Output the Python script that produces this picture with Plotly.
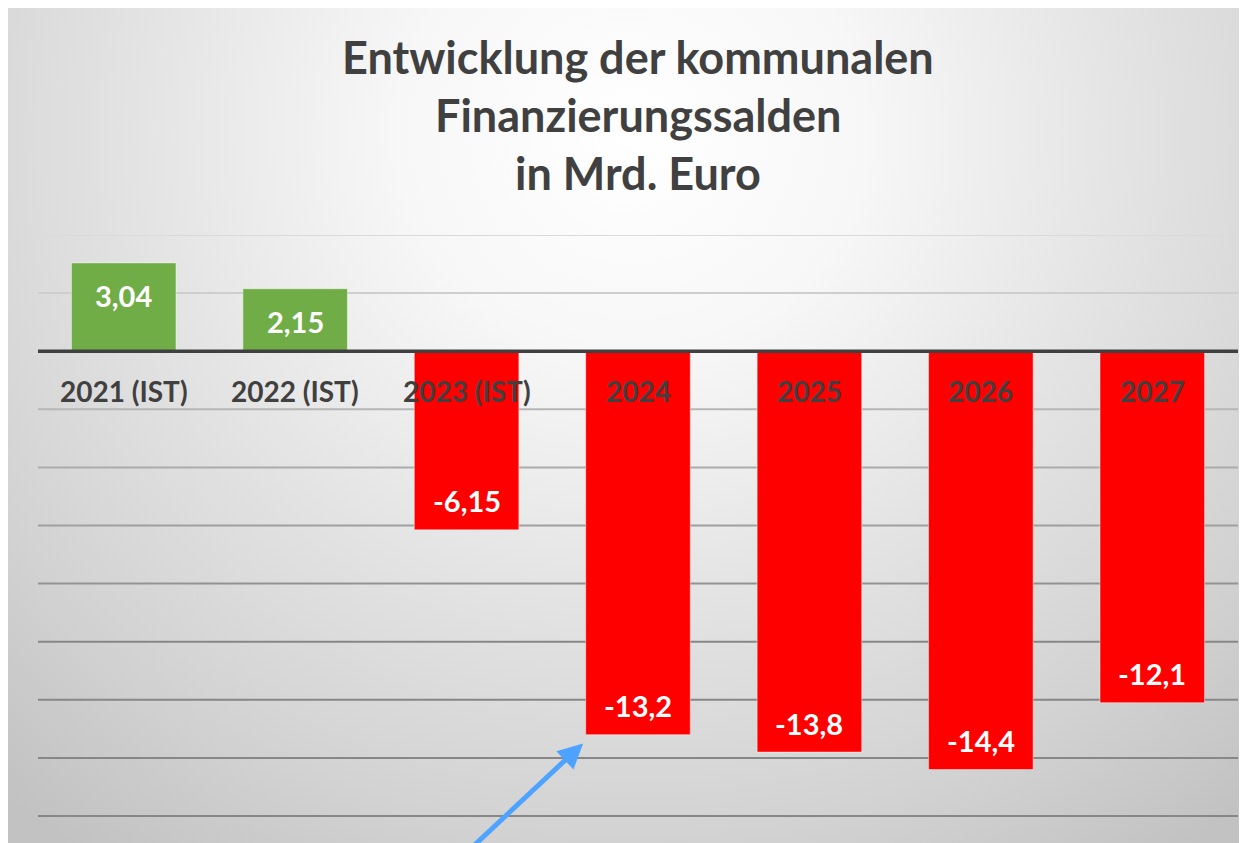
import plotly.graph_objects as go

# ---- data ----
categories = ["2021 (IST)", "2022 (IST)", "2023 (IST)", "2024", "2025", "2026", "2027"]
values = [3.04, 2.15, -6.15, -13.2, -13.8, -14.4, -12.1]
value_labels = ["3,04", "2,15", "-6,15", "-13,2", "-13,8", "-14,4", "-12,1"]
grid_values = [4, 2, -2, -4, -6, -8, -10, -12, -14, -16]
title_lines = ["Entwicklung der kommunalen", "Finanzierungssalden", "in Mrd. Euro"]

W, H = 1247, 843
OFF = 8  # page body margin offset
FONT = "Lato"
GREEN = "#70AD47"
RED = "#FF0000"
DARK = "#404040"

colors = [GREEN if v >= 0 else RED for v in values]
idx = list(range(len(categories)))

fig = go.Figure()

# background gradient (decorative) on a full-figure subplot x/y
fig.add_trace(go.Scatter(
    x=[-0.25, 1.25, 1.25, -0.25, -0.25],
    y=[-0.2, -0.2, 1.9, 1.9, -0.2],
    mode="lines", line=dict(width=0),
    fill="toself",
    fillgradient=dict(type="radial",
                      colorscale=[[0, "#ffffff"], [0.25, "#f7f7f7"], [0.55, "#e2e2e2"],
                                  [0.8, "#d2d2d2"], [1, "#c2c2c2"]]),
    hoverinfo="skip", showlegend=False,
    xaxis="x", yaxis="y",
))

# bars on x2/y2
fig.add_trace(go.Bar(
    x=categories, y=values,
    marker=dict(color=colors, line=dict(color="rgba(255,255,255,0.45)", width=1)),
    width=0.61,
    hoverinfo="x+y", showlegend=False,
    xaxis="x2", yaxis="y2",
))

# screen-pixel layout targets, converted to figure fractions
plot_left_px, plot_right_px, plot_top_px = 38 - OFF, 1238 - OFF, 235 - OFF
px_per_unit = 29.05
y_top = 4
y_bot = y_top - (H - plot_top_px) / px_per_unit

fig.update_layout(
    width=W, height=H,
    margin=dict(l=0, r=0, t=0, b=0),
    paper_bgcolor="white",
    plot_bgcolor="rgba(0,0,0,0)",
    xaxis=dict(domain=[0, 1], range=[0, 1], visible=False, fixedrange=True),
    yaxis=dict(domain=[0, 1], range=[0, 1], visible=False, fixedrange=True),
    xaxis2=dict(domain=[plot_left_px / W, plot_right_px / W], anchor="y2", type="category",
                range=[-0.5, len(categories) - 0.5], visible=False),
    yaxis2=dict(domain=[0, 1 - plot_top_px / H], anchor="x2", range=[y_bot, y_top],
                showgrid=False, zeroline=False, visible=False),
    bargap=0.39,
)

# gridlines, lighter toward the top (as in the reference)
def mix(c1, c2, t):
    return "rgb(%d,%d,%d)" % tuple(round(a + (b - a) * t) for a, b in zip(c1, c2))

light, dark = (218, 218, 218), (135, 135, 135)
shapes = []
for g in grid_values:
    t = min(1, max(0, (y_top - g) / (y_top - (-10))))
    shapes.append(dict(type="line", xref="x2", yref="y2", x0=-0.5, x1=len(categories) - 0.5,
                       y0=g, y1=g, line=dict(color=mix(light, dark, t), width=2), layer="below"))
# zero line
shapes.append(dict(type="line", xref="x2", yref="y2", x0=-0.5, x1=len(categories) - 0.5,
                   y0=0, y1=0, line=dict(color=DARK, width=3.5), layer="above"))
fig.update_layout(shapes=shapes)

annotations = []
# title
for i, line in enumerate(title_lines):
    annotations.append(dict(text="<b>%s</b>" % line, xref="paper", yref="paper",
                            x=(638 - OFF) / W, y=1 - (57 + 58 * i - OFF) / H,
                            xanchor="center", yanchor="middle",
                            showarrow=False, font=dict(family=FONT, size=45, color=DARK)))
# category labels at the zero line
for i, c in zip(idx, categories):
    annotations.append(dict(text="<b>%s</b>" % c, xref="x2", yref="y2", x=i, y=0,
                            yshift=-40, showarrow=False, xanchor="center", yanchor="middle",
                            font=dict(family=FONT, size=28, color=DARK)))
# value labels inside bar ends
for i, v, lab in zip(idx, values, value_labels):
    annotations.append(dict(text="<b>%s</b>" % lab, xref="x2", yref="y2", x=i, y=v,
                            yshift=(-33 if v >= 0 else 29), showarrow=False,
                            xanchor="center", yanchor="middle",
                            font=dict(family=FONT, size=29, color="white")))
# blue arrow pointing at the 2024 bar
annotations.append(dict(text="", xref="x2", yref="y2", x=2.68, y=values[3] - 0.3,
                        ax=-115, ay=108, axref="pixel", ayref="pixel",
                        showarrow=True, arrowhead=2, arrowsize=1.0, arrowwidth=5,
                        arrowcolor="#4DA3FF"))
fig.update_layout(annotations=annotations)

fig.write_html("out.html")
